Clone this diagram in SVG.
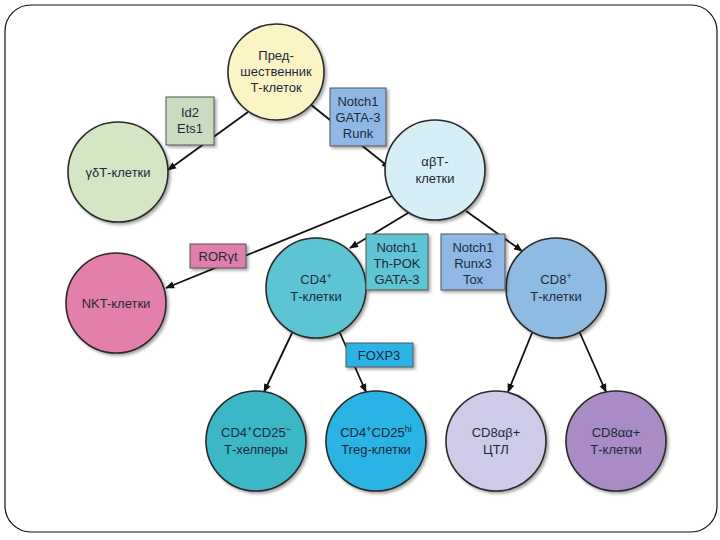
<svg xmlns="http://www.w3.org/2000/svg" width="720" height="540" viewBox="0 0 720 540">
<defs>
<style>
.n{stroke:#2a2a2a;stroke-width:1.6}
.b{stroke:#555;stroke-width:1}
.t{font-family:"Liberation Sans",Arial,sans-serif;font-size:13px;fill:#1e2a3a;text-anchor:middle}
.c{stroke:#111;stroke-width:1.8;fill:none;marker-end:url(#ah)}
</style>
<marker id="ah" viewBox="0 0 10 10" refX="9" refY="5" markerWidth="5" markerHeight="5" orient="auto" markerUnits="strokeWidth">
<path d="M0,1 L10,5 L0,9 z" fill="#111"/>
</marker>
<filter id="sh" x="-20%" y="-20%" width="140%" height="140%">
<feDropShadow dx="2" dy="2" stdDeviation="1.5" flood-color="#000" flood-opacity="0.35"/>
</filter>
</defs>
<rect x="0" y="0" width="720" height="540" fill="#fff"/>
<rect x="5" y="5" width="712" height="527" rx="26" ry="26" fill="none" stroke="#111" stroke-width="1.2"/>

<g id="connectors">
<line class="c" x1="248" y1="112" x2="168" y2="170"/>
<line class="c" x1="310" y1="104" x2="390" y2="168"/>
<line class="c" x1="392" y1="196" x2="166" y2="288"/>
<line class="c" x1="408" y1="213" x2="350" y2="248"/>
<line class="c" x1="466" y1="211" x2="522" y2="251"/>
<line class="c" x1="292" y1="333" x2="264" y2="392"/>
<line class="c" x1="340" y1="333" x2="366" y2="392"/>
<line class="c" x1="532" y1="333" x2="508" y2="392"/>
<line class="c" x1="580" y1="333" x2="606" y2="392"/>
</g>

<g id="precursor">
<circle class="n" cx="276" cy="72" r="48" fill="#fbf5c6" filter="url(#sh)"/>
<text class="t" x="276" y="60">Пред-</text>
<text class="t" x="276" y="76">шественник</text>
<text class="t" x="276" y="92">Т-клеток</text>
</g>
<g id="gd">
<circle class="n" cx="118" cy="172" r="50" fill="#d4e6c4" filter="url(#sh)"/>
<text class="t" x="118" y="177">γδТ-клетки</text>
</g>
<g id="ab">
<circle class="n" cx="435" cy="170" r="50" fill="#d6eef5" filter="url(#sh)"/>
<text class="t" x="435" y="166">αβТ-</text>
<text class="t" x="435" y="183">клетки</text>
</g>
<g id="nkt">
<circle class="n" cx="116" cy="303" r="50" fill="#e47fab" filter="url(#sh)"/>
<text class="t" x="116" y="308">NKT-клетки</text>
</g>
<g id="cd4">
<circle class="n" cx="316" cy="288" r="50" fill="#5cc4d2" filter="url(#sh)"/>
<text class="t" x="316" y="284">CD4<tspan dy="-5" font-size="9">+</tspan></text>
<text class="t" x="316" y="301">Т-клетки</text>
</g>
<g id="cd8">
<circle class="n" cx="556" cy="288" r="50" fill="#8ebbe2" filter="url(#sh)"/>
<text class="t" x="556" y="284">CD8<tspan dy="-5" font-size="9">+</tspan></text>
<text class="t" x="556" y="301">Т-клетки</text>
</g>
<g id="cd4cd25">
<circle class="n" cx="256" cy="441" r="50" fill="#3ab7c6" filter="url(#sh)"/>
<text class="t" x="256" y="437">CD4<tspan dy="-5" font-size="9">+</tspan><tspan dy="5">CD25</tspan><tspan dy="-5" font-size="9">−</tspan></text>
<text class="t" x="256" y="454">Т-хелперы</text>
</g>
<g id="treg">
<circle class="n" cx="376" cy="441" r="50" fill="#2cb4e6" filter="url(#sh)"/>
<text class="t" x="376" y="437">CD4<tspan dy="-5" font-size="9">+</tspan><tspan dy="5">CD25</tspan><tspan dy="-5" font-size="9">hi</tspan></text>
<text class="t" x="376" y="454">Treg-клетки</text>
</g>
<g id="cd8ab">
<circle class="n" cx="496" cy="441" r="50" fill="#cdcbe8" filter="url(#sh)"/>
<text class="t" x="496" y="437">CD8αβ+</text>
<text class="t" x="496" y="454">ЦТЛ</text>
</g>
<g id="cd8aa">
<circle class="n" cx="616" cy="441" r="50" fill="#a98cc5" filter="url(#sh)"/>
<text class="t" x="616" y="437">CD8αα+</text>
<text class="t" x="616" y="454">Т-клетки</text>
</g>

<g id="box-id2">
<rect class="b" x="166" y="97" width="48" height="48" fill="#c9dcc0" filter="url(#sh)"/>
<text class="t" x="190" y="117">Id2</text>
<text class="t" x="190" y="133">Ets1</text>
</g>
<g id="box-notch-gata">
<rect class="b" x="330" y="88" width="56" height="58" fill="#8fb9e4" filter="url(#sh)"/>
<text class="t" x="358" y="106">Notch1</text>
<text class="t" x="358" y="122">GATA-3</text>
<text class="t" x="358" y="138">Runk</text>
</g>
<g id="box-ror">
<rect class="b" x="190" y="244" width="56" height="24" fill="#e07fae" filter="url(#sh)"/>
<text class="t" x="218" y="261">RORγt</text>
</g>
<g id="box-thpok">
<rect class="b" x="366" y="234" width="62" height="56" fill="#5ec4d3" filter="url(#sh)"/>
<text class="t" x="397" y="252">Notch1</text>
<text class="t" x="397" y="268">Th-POK</text>
<text class="t" x="397" y="284">GATA-3</text>
</g>
<g id="box-runx">
<rect class="b" x="441" y="234" width="64" height="56" fill="#8fb9e4" filter="url(#sh)"/>
<text class="t" x="473" y="252">Notch1</text>
<text class="t" x="473" y="268">Runx3</text>
<text class="t" x="473" y="284">Tox</text>
</g>
<g id="box-foxp3">
<rect class="b" x="346" y="343" width="67" height="24" fill="#2cb4e6" filter="url(#sh)"/>
<text class="t" x="379" y="360">FOXP3</text>
</g>
</svg>
